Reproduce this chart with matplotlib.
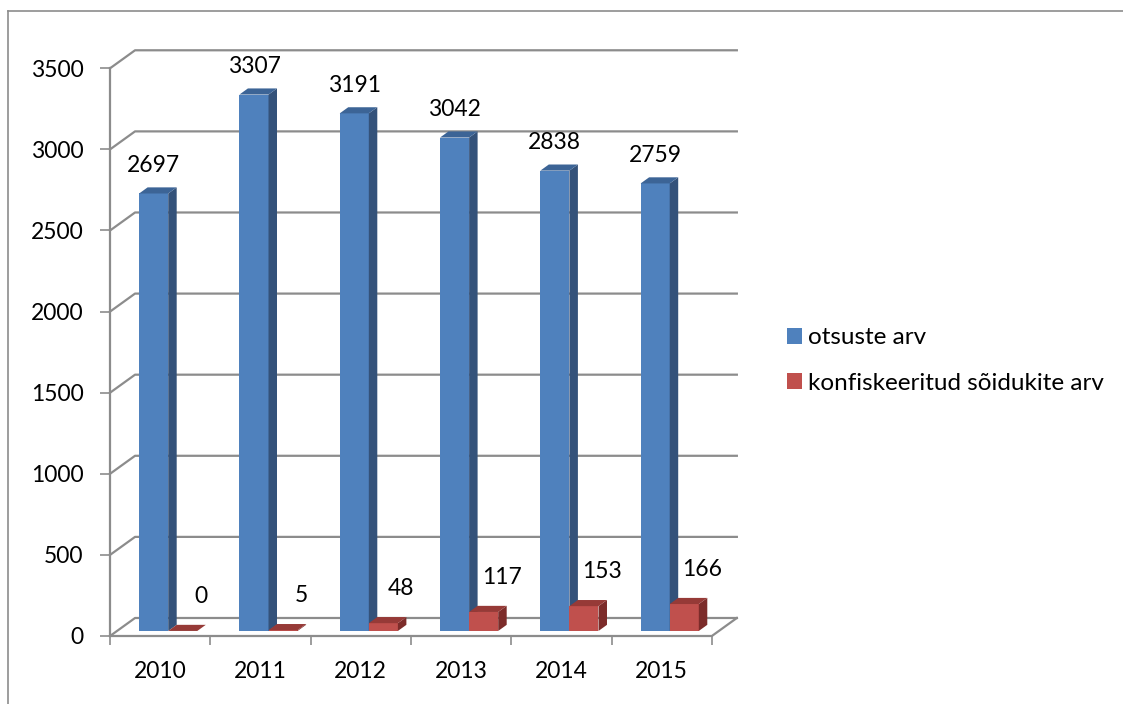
import matplotlib
matplotlib.use("Agg")
import matplotlib.pyplot as plt
from matplotlib.lines import Line2D
from matplotlib.patches import Patch, Polygon

# data
years = ["2010", "2011", "2012", "2013", "2014", "2015"]
otsused = [2697, 3307, 3191, 3042, 2838, 2759]
konfiskeeritud = [0, 5, 48, 117, 153, 166]
series_names = ["otsuste arv", "konfiskeeritud sõidukite arv"]
y_ticks = [0, 500, 1000, 1500, 2000, 2500, 3000, 3500]

# (front, side, top) face colours
BLUE = ("#4F81BD", "#34527A", "#3C6496")
RED = ("#C0504D", "#7C2C2A", "#963A37")
GRID = "#8C8C8C"
FS = 16.5
FS_LEGEND = 17.5

# fake 3D: the back wall is shifted by (DX, DY) in data units
DX = 0.249
DY = 111.0
Z0, Z1 = 0.28, 0.62  # bar depth range as a fraction of the wall depth
BAR_W = 0.29

plt.rcParams["font.family"] = ["Lato", "DejaVu Sans"]


def draw_column(ax, x_left, value, colors, zorder):
    """Draw one pseudo-3D column whose front face starts at x_left."""
    front, side, top = colors
    bx = x_left + Z0 * DX
    by = Z0 * DY
    ddx = (Z1 - Z0) * DX
    ddy = (Z1 - Z0) * DY
    ax.bar(bx, value, width=BAR_W, bottom=by, align="edge", color=front,
           linewidth=0, zorder=zorder)
    xr = bx + BAR_W
    ax.add_patch(Polygon([(xr, by), (xr + ddx, by + ddy),
                          (xr + ddx, by + ddy + value), (xr, by + value)],
                         closed=True, facecolor=side, linewidth=0,
                         zorder=zorder, clip_on=False))
    ax.add_patch(Polygon([(bx, by + value), (xr, by + value),
                          (xr + ddx, by + value + ddy),
                          (bx + ddx, by + value + ddy)],
                         closed=True, facecolor=top, linewidth=0,
                         zorder=zorder, clip_on=False))
    return bx + BAR_W / 2, by + value


fig = plt.figure(figsize=(11.23, 7.04), dpi=100)
ax = fig.add_axes([0.0980, 0.0966, 0.5359, 0.8064])
x0, x1 = -0.5, len(years) - 0.5
ax.set_xlim(x0, x1)
ax.set_ylim(0, y_ticks[-1])
for s in ax.spines.values():
    s.set_visible(False)

# walls and floor
for v in y_ticks:
    ax.plot([x0, x0 + DX, x1 + DX], [v, v + DY, v + DY], color=GRID,
            lw=1.6, clip_on=False, zorder=1)
ax.plot([x0, x0], [0, y_ticks[-1]], color=GRID, lw=1.6, clip_on=False, zorder=1)
ax.plot([x0, x1, x1 + DX], [0, 0, DY], color=GRID, lw=1.6, clip_on=False, zorder=1)

for i in range(len(years)):
    cx, cy = draw_column(ax, i - 0.28, otsused[i], BLUE, 3)
    ax.annotate(str(otsused[i]), (cx, cy), xytext=(0, 20),
                textcoords="offset points", ha="center", va="center",
                fontsize=FS, annotation_clip=False)
    cx, cy = draw_column(ax, i + 0.01, konfiskeeritud[i], RED, 4)
    ax.annotate(str(konfiskeeritud[i]), (cx, cy), xytext=(13, 25),
                textcoords="offset points", ha="center", va="center",
                fontsize=FS, annotation_clip=False)

ax.set_yticks(y_ticks)
ax.tick_params(axis="y", length=7.2, width=1.2, color=GRID, pad=12,
               labelsize=FS)
ax.set_xticks([i - 0.5 for i in range(len(years) + 1)])
ax.set_xticks(range(len(years)), labels=years, minor=True)
ax.tick_params(axis="x", which="major", length=6.5, width=1.2, color=GRID,
               labelbottom=False)
ax.tick_params(axis="x", which="minor", length=0, pad=18, labelsize=FS)

handles = [Patch(facecolor=BLUE[0]), Patch(facecolor=RED[0])]
fig.legend(handles, series_names, loc="center left",
           bbox_to_anchor=(787 / 1123, 0.488), frameon=False,
           fontsize=FS_LEGEND, handlelength=0.62, handleheight=0.62,
           handletextpad=0.25, labelspacing=1.0, borderpad=0,
           borderaxespad=0)

# chart frame (right and bottom edges are cut off in the reference)
fig.add_artist(Line2D([0.0067, 0.0067], [0, 0.985], transform=fig.transFigure,
                      color=GRID, lw=1.2))
fig.add_artist(Line2D([0.0067, 1], [0.985, 0.985], transform=fig.transFigure,
                      color=GRID, lw=1.2))

fig.savefig("out.png", dpi=100)
